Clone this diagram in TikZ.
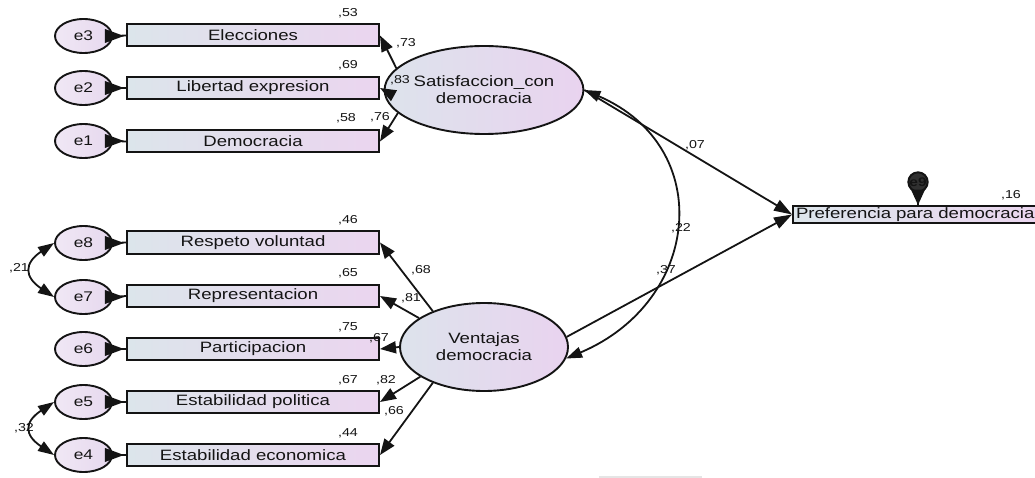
\documentclass[tikz,border=0pt]{standalone}
\usepackage{fontspec}
\setmainfont{Liberation Sans}[FakeStretch=1.24]
\usetikzlibrary{arrows.meta,shapes.geometric}

\definecolor{boxL}{HTML}{DCE5EB}
\definecolor{boxR}{HTML}{EBD5EF}
\definecolor{ellL}{HTML}{DDE3EC}
\definecolor{ellR}{HTML}{E9D3EF}
\definecolor{errF}{HTML}{E6D8EE}
\definecolor{ink}{HTML}{141414}

\tikzset{
  obs/.style={draw=ink, line width=2pt, rectangle, minimum width=252pt,
    minimum height=22pt, inner sep=0pt, left color=boxL, right color=boxR,
    font=\fontsize{15}{16}\selectfont, text=ink},
  lat/.style={draw=ink, line width=1.9pt, ellipse, minimum width=168pt,
    minimum height=88pt, inner sep=0pt, left color=ellL, right color=ellR,
    align=center, font=\fontsize{15}{17}\selectfont, text=ink},
  err/.style={draw=ink, line width=1.9pt, ellipse, minimum width=57pt,
    minimum height=34pt, inner sep=0pt, left color=errF!60!white,
    right color=errF, font=\fontsize{14}{16}\selectfont, text=ink},
  coef/.style={font=\fontsize{11.5}{12}\selectfont, text=ink, inner sep=0pt},
  ld/.style={draw=ink, line width=1.8pt, -{Triangle[length=16pt,width=12pt]}},
  reg/.style={draw=ink, line width=1.8pt, -{Triangle[length=18pt,width=12pt]}},
  covar/.style={draw=ink, line width=1.8pt,
    {Triangle[length=16pt,width=11pt]}-{Triangle[length=16pt,width=11pt]}},
  wire/.style={draw=ink, line width=1.8pt},
}

\begin{document}
\begin{tikzpicture}[x=1pt,y=-1pt]
\useasboundingbox (0,0) rectangle (1035,478);

% observed indicators
\node[obs] (r3) at (253,35.5) {Elecciones};
\node[obs] (r2) at (253,88) {Libertad expresion};
\node[obs] (r1) at (253,141.5) {Democracia};
\node[obs] (r8) at (253,242.5) {Respeto voluntad};
\node[obs] (r7) at (253,296) {Representacion};
\node[obs] (r6) at (253,349) {Participacion};
\node[obs] (r5) at (253,402) {Estabilidad politica};
\node[obs] (r4) at (253,455) {Estabilidad economica};

% error terms
\node[err] (e3) at (83.5,36) {e3};
\node[err] (e2) at (83.5,88) {e2};
\node[err] (e1) at (83.5,141) {e1};
\node[err] (e8) at (83.5,243) {e8};
\node[err] (e7) at (83.5,297) {e7};
\node[err] (e6) at (83.5,349) {e6};
\node[err] (e5) at (83.5,402) {e5};
\node[err] (e4) at (83.5,455) {e4};

% latent factors
\node[lat] (S) at (484,90) {Satisfaccion\_con\\democracia};
\node[lat] (V) at (484,347) {Ventajas\\democracia};

% outcome
\node[draw=ink, line width=2pt, rectangle, anchor=west, minimum height=17pt,
  text width=247pt, inner xsep=3pt, inner ysep=0pt, align=left,
  left color=boxL, right color=boxR, font=\fontsize{15}{16}\selectfont, text=ink]
  (P) at (792,214.5) {Preferencia para democracia};
\node[circle, draw=ink, line width=2pt, fill=ink!88, minimum size=15pt,
  inner sep=0pt, font=\bfseries\fontsize{12.5}{13}\selectfont, text=ink]
  (e9) at (918,182) {e9};

% error paths into indicators
\foreach \a/\b in {e3/r3,e2/r2,e1/r1,e8/r8,e7/r7,e6/r6,e5/r5,e4/r4}{
  \draw[wire] (\a.east) -- (\b.west);
  \fill[ink] ([shift={(-8pt,7pt)}]\a.east) -- ([shift={(-8pt,-7pt)}]\a.east)
    -- ([xshift=11pt]\a.east) -- cycle;
}
\draw[wire] (e9.south) -- (e9.south |- P.north);
\fill[ink] ([shift={(-7pt,3pt)}]e9.south) -- ([shift={(7pt,3pt)}]e9.south)
  -- (e9.south |- P.north) -- cycle;

% factor loadings
\draw[ld] (S.166) -- (r3.east);
\draw[ld] (S.west) -- (r2.east);
\draw[ld] (S.195) -- (r1.east);
\draw[ld] (V.145) -- (r8.east);
\draw[ld] (V.156) -- (r7.east);
\draw[ld] (V.west) -- (r6.east);
\draw[ld] (V.205) -- (r5.east);
\draw[ld] (V.215) -- (r4.east);

% structural paths
\draw[reg] (S.east) -- (P.west);
\draw[reg] (V.7) -- (P.west);

% covariances
\draw[covar] (S.east) .. controls +(132,57) and +(135,-57) .. (V.-8);
\draw[covar] (e8.west) .. controls +(-30,20) and +(-30,-20) .. (e7.west);
\draw[covar] (e5.west) .. controls +(-30,20) and +(-30,-20) .. (e4.west);

% estimates
\node[coef] at (348,13) {,53};
\node[coef] at (348,65) {,69};
\node[coef] at (346,118) {,58};
\node[coef] at (380,117) {,76};
\node[coef] at (406,43) {,73};
\node[coef] at (400,80) {,83};
\node[coef] at (348,220) {,46};
\node[coef] at (348,273) {,65};
\node[coef] at (348,327) {,75};
\node[coef] at (348,380) {,67};
\node[coef] at (348,433) {,44};
\node[coef] at (421,270) {,68};
\node[coef] at (411,298) {,81};
\node[coef] at (379,338) {,67};
\node[coef] at (386,380) {,82};
\node[coef] at (394,411) {,66};
\node[coef] at (19,268) {,21};
\node[coef] at (24,428) {,32};
\node[coef] at (695,145) {,07};
\node[coef] at (681,228) {,22};
\node[coef] at (666,270) {,37};
\node[coef] at (1011,195) {,16};

% faint rule at the foot
\draw[black!10, line width=1.5pt] (599,477) -- (702,477);
\end{tikzpicture}
\end{document}
